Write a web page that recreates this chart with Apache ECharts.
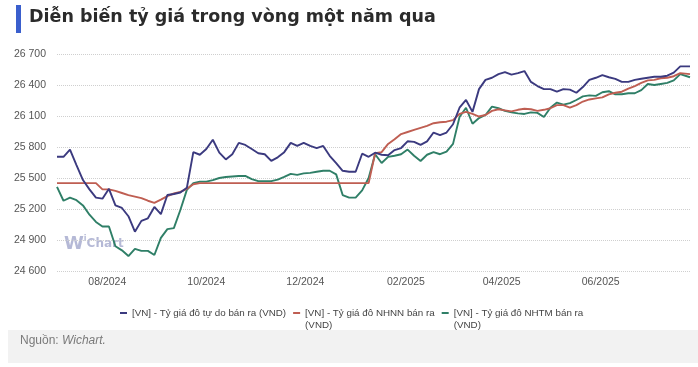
<!DOCTYPE html>
<html>
<head>
<meta charset="utf-8">
<script src="https://cdn.jsdelivr.net/npm/echarts@6.0.0/dist/echarts.min.js"></script>
<style>
html,body{margin:0;padding:0;background:#fff;}
#chart{width:698px;height:367px;}
</style>
</head>
<body>
<div id="chart"></div>
<script>
const dates = [
'2024-07-01','2024-07-05','2024-07-09','2024-07-13','2024-07-17','2024-07-21','2024-07-25','2024-07-29',
'2024-08-02','2024-08-06','2024-08-10','2024-08-14','2024-08-18','2024-08-22','2024-08-26','2024-08-30',
'2024-09-03','2024-09-07','2024-09-11','2024-09-15','2024-09-19','2024-09-23','2024-09-27','2024-10-01',
'2024-10-05','2024-10-09','2024-10-13','2024-10-17','2024-10-21','2024-10-25','2024-10-29','2024-11-02',
'2024-11-06','2024-11-10','2024-11-14','2024-11-18','2024-11-22','2024-11-26','2024-11-30','2024-12-04',
'2024-12-08','2024-12-12','2024-12-16','2024-12-20','2024-12-24','2024-12-28','2025-01-01','2025-01-05',
'2025-01-09','2025-01-13','2025-01-17','2025-01-21','2025-01-25','2025-01-29','2025-02-02','2025-02-06',
'2025-02-10','2025-02-14','2025-02-18','2025-02-22','2025-02-26','2025-03-02','2025-03-06','2025-03-10',
'2025-03-14','2025-03-18','2025-03-22','2025-03-26','2025-03-30','2025-04-03','2025-04-07','2025-04-11',
'2025-04-15','2025-04-19','2025-04-23','2025-04-27','2025-05-01','2025-05-05','2025-05-09','2025-05-13',
'2025-05-17','2025-05-21','2025-05-25','2025-05-29','2025-06-02','2025-06-06','2025-06-10','2025-06-14',
'2025-06-18','2025-06-22','2025-06-26','2025-06-30','2025-07-04','2025-07-08','2025-07-12','2025-07-16',
'2025-07-20','2025-07-26'
];

// [VN] - Tỷ giá đô tự do bán ra (VND)
const freeMarket = [
25705,25705,25775,25625,25480,25390,25310,25300,
25395,25235,25210,25130,24980,25085,25110,25220,
25150,25335,25345,25360,25405,25750,25725,25780,
25870,25745,25680,25730,25840,25820,25780,25740,
25730,25665,25700,25750,25840,25810,25840,25810,
25790,25810,25715,25645,25570,25560,25560,25735,
25705,25745,25725,25720,25770,25790,25855,25850,
25820,25855,25940,25915,25940,26020,26180,26255,
26140,26360,26450,26470,26505,26525,26500,26515,
26535,26430,26390,26360,26360,26335,26360,26355,
26325,26380,26450,26470,26495,26475,26460,26430,
26430,26450,26460,26470,26480,26480,26490,26520,
26580,26580
];

// [VN] - Tỷ giá đô NHNN bán ra (VND)
const sbvRate = [
25450,25450,25450,25450,25450,25450,25450,25390,
25390,25375,25355,25335,25320,25305,25280,25260,
25290,25325,25350,25365,25395,25440,25450,25450,
25450,25450,25450,25450,25450,25450,25450,25450,
25450,25450,25450,25450,25450,25450,25450,25450,
25450,25450,25450,25450,25450,25450,25450,25450,
25450,25740,25750,25830,25875,25925,25945,25965,
25985,26005,26030,26040,26045,26060,26120,26140,
26120,26095,26110,26150,26165,26155,26145,26160,
26170,26165,26150,26160,26175,26205,26205,26180,
26205,26240,26260,26270,26280,26310,26325,26335,
26365,26390,26420,26445,26450,26465,26470,26485,
26515,26505
];

// [VN] - Tỷ giá đô NHTM bán ra (VND)
const bankRate = [
25415,25280,25310,25285,25235,25145,25075,25030,
25030,24840,24800,24745,24815,24795,24795,24755,
24920,25005,25015,25190,25385,25450,25465,25465,
25480,25500,25510,25515,25520,25520,25490,25470,
25470,25470,25485,25510,25540,25530,25545,25550,
25560,25570,25570,25535,25335,25310,25310,25380,
25500,25730,25645,25705,25715,25730,25775,25715,
25665,25725,25750,25730,25755,25830,26090,26180,
26025,26080,26110,26190,26175,26150,26135,26125,
26120,26135,26130,26090,26180,26230,26210,26225,
26255,26290,26300,26295,26330,26340,26310,26310,
26320,26320,26350,26410,26400,26410,26420,26445,
26505,26475
];

const xTickDates = ['2024-08-01','2024-10-01','2024-12-01','2025-02-01','2025-04-01','2025-06-01'];
const yMin = 24600, yMax = 26700, yStep = 300;

const names = [
  '[VN] - Tỷ giá đô tự do bán ra (VND)',
  '[VN] - Tỷ giá đô NHNN bán ra (VND)',
  '[VN] - Tỷ giá đô NHTM bán ra (VND)'
];
const colors = ['#3b3a7f', '#bf5e52', '#2f7f67'];
const valuesList = [freeMarket, sbvRate, bankRate];

function toTs(s) {
  const p = s.split('-').map(Number);
  return Date.UTC(p[0], p[1] - 1, p[2]);
}

const chart = echarts.init(document.getElementById('chart'));

const seriesOrder = [2, 1, 0];
const series = seriesOrder.map(k => ({
  name: names[k],
  type: 'line',
  showSymbol: false,
  symbol: 'none',
  color: colors[k],
  lineStyle: { width: 1.9, color: colors[k] },
  z: 3 + (2 - k),
  data: dates.map((d, i) => [toTs(d), valuesList[k][i]])
}));

chart.setOption({
  animation: false,
  backgroundColor: '#ffffff',
  textStyle: { fontFamily: 'Liberation Sans' },
  grid: { left: 57, right: 8, top: 54, bottom: 96 },
  xAxis: {
    type: 'value',
    min: toTs('2024-07-01'),
    max: toTs('2025-07-26'),
    axisLine: { show: false },
    axisTick: { show: false },
    splitLine: { show: false },
    axisLabel: {
      customValues: xTickDates.map(toTs),
      color: '#555',
      fontSize: 10.5,
      fontFamily: 'Liberation Sans',
      margin: 6,
      formatter: function (v) {
        const d = new Date(v);
        const m = d.getUTCMonth() + 1;
        return (m < 10 ? '0' + m : '' + m) + '/' + d.getUTCFullYear();
      }
    }
  },
  yAxis: {
    type: 'value',
    min: yMin,
    max: yMax,
    interval: yStep,
    axisLine: { show: false },
    axisTick: { show: false },
    splitLine: { lineStyle: { type: 'dotted', color: '#cfcfcf', width: 1 } },
    axisLabel: {
      color: '#555',
      fontSize: 10.5,
      fontFamily: 'Liberation Sans',
      margin: 11,
      formatter: function (v) {
        return String(v).replace(/\B(?=(\d{3})+(?!\d))/g, ' ');
      }
    }
  },
  legend: {
    left: 120,
    top: 307,
    padding: 0,
    itemWidth: 7,
    itemHeight: 14,
    itemGap: 7,
    icon: 'path://M0,0L7,0L7,2L0,2Z M0,14L0.01,14',
    textStyle: { fontSize: 9.8, color: '#444', fontFamily: 'Liberation Sans', lineHeight: 12 },
    data: names,
    formatter: function (name) {
      return name === names[0] ? name + '\n ' : name.replace(' (VND)', '\n(VND)');
    }
  },
  graphic: [
    { type: 'rect', left: 16, top: 5, shape: { width: 5, height: 28 }, style: { fill: '#3a5fcd' } },
    { type: 'text', left: 29, top: 8, style: { text: 'Diễn biến tỷ giá trong vòng một năm qua', fill: '#2b2b2b', font: 'bold 17.5px "DejaVu Sans"' } },
    { type: 'text', left: 64, top: 235, z: 0, style: {
        text: '{w|W}{i|i}{c|Chart}',
        rich: {
          w: { fontSize: 18, fontWeight: 'bold', fill: 'rgba(120,128,180,0.55)', fontFamily: 'DejaVu Sans' },
          i: { fontSize: 8, fontWeight: 'bold', fill: 'rgba(120,128,180,0.55)', fontFamily: 'DejaVu Sans', verticalAlign: 'top' },
          c: { fontSize: 12, fontWeight: 'bold', fill: 'rgba(120,128,180,0.55)', fontFamily: 'DejaVu Sans' }
        }
      } },
    { type: 'rect', left: 8, top: 330, shape: { width: 690, height: 33 }, style: { fill: '#f2f2f2' }, z: -1 },
    { type: 'text', left: 20, top: 335, style: {
        text: '{n|Nguồn: }{w|Wichart.}',
        rich: {
          n: { fontSize: 12, fill: '#7a7a7a', fontFamily: 'Liberation Sans' },
          w: { fontSize: 12, fill: '#7a7a7a', fontStyle: 'italic', fontFamily: 'Liberation Sans' }
        }
      } }
  ],
  series: series
});
</script>
</body>
</html>
